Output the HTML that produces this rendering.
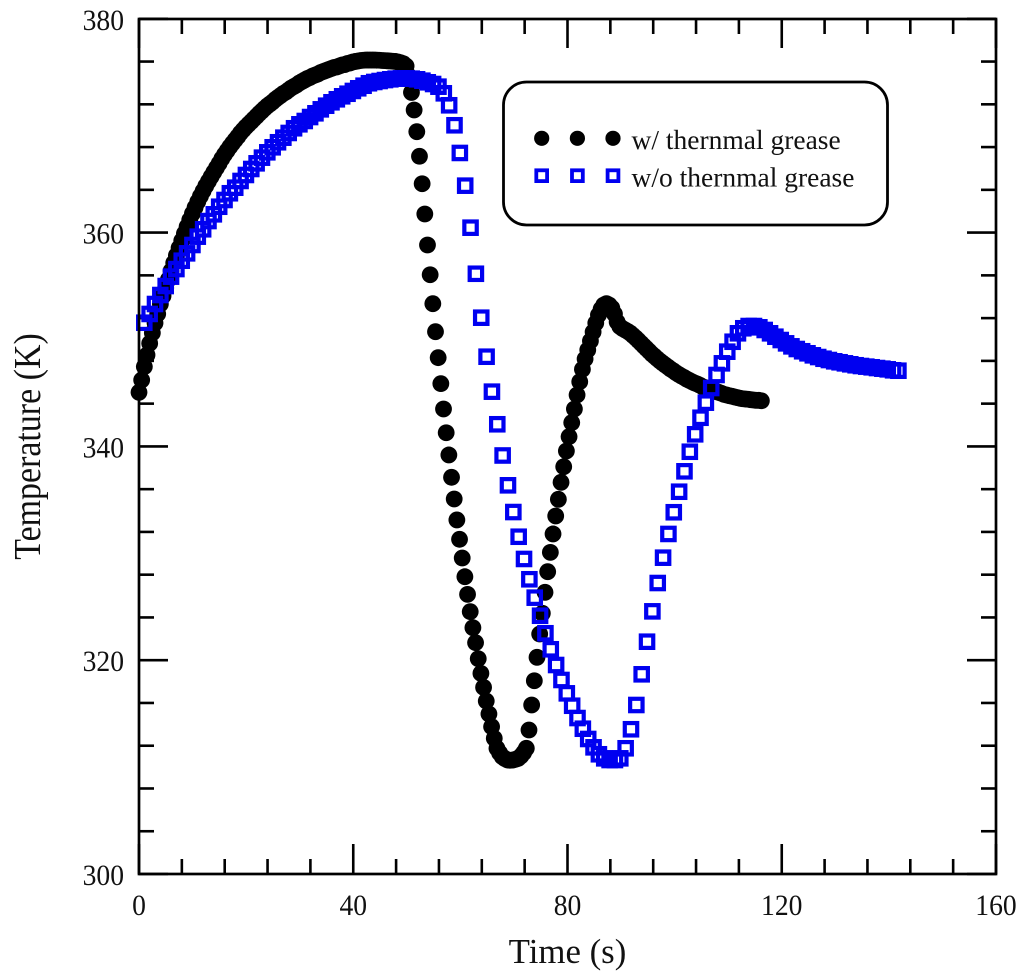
<!DOCTYPE html>
<html lang="en">
<head>
<meta charset="utf-8">
<title>Temperature vs Time</title>
<style>
html,body{margin:0;padding:0;background:#fff;width:1024px;height:977px;overflow:hidden}
svg{display:block}
text{font-family:"Liberation Serif",serif;fill:#111}
</style>
</head>
<body>
<svg id="chart" xmlns="http://www.w3.org/2000/svg" width="1024" height="977" viewBox="0 0 1024 977">
  <rect x="0" y="0" width="1024" height="977" fill="#fff"/>
  <g id="ticks"></g>
  <g id="tick-labels"></g>
  <text x="567.5" y="963" font-size="34.8" text-anchor="middle">Time (s)</text>
  <text transform="translate(40,446.5) rotate(-90) scale(0.975,1.08)" font-size="34.8" text-anchor="middle">Temperature (K)</text>
  <g id="series-black"></g>
  <g id="series-blue"></g>
  <rect x="139" y="19" width="857" height="855" fill="none" stroke="#000" stroke-width="2.7"/>
  <g>
    <rect x="503.5" y="82" width="384" height="143" rx="23" ry="23" fill="#fff" stroke="#000" stroke-width="2.8"/>
    <circle cx="541.7" cy="138.3" r="7.6" fill="#000"/>
    <circle cx="577.4" cy="138.3" r="7.6" fill="#000"/>
    <circle cx="613" cy="138.3" r="7.6" fill="#000"/>
    <rect x="536.3" y="170.3" width="10.8" height="10.8" fill="none" stroke="#0000f0" stroke-width="3.8"/>
    <rect x="572" y="170.3" width="10.8" height="10.8" fill="none" stroke="#0000f0" stroke-width="3.8"/>
    <rect x="607.6" y="170.3" width="10.8" height="10.8" fill="none" stroke="#0000f0" stroke-width="3.8"/>
    <text x="631.5" y="149" font-size="27.5">w/ thernmal grease</text>
    <text x="631.5" y="186.5" font-size="27.5">w/o thernmal grease</text>
  </g>
</svg>
<script>
const xMajorTicks = [0, 40, 80, 120, 160];
const xMinorTicks = [8, 16, 24, 32, 48, 56, 64, 72, 88, 96, 104, 112, 128, 136, 144, 152];
const yMajorTicks = [300, 320, 340, 360, 380];
const yMinorTicks = [304, 308, 312, 316, 324, 328, 332, 336, 344, 348, 352, 356, 364, 368, 372, 376];
const withGreaseStartTime = 0;
const withGreaseTimeStep = 0.4987;
const withoutGreaseStartTime = 0.99;
const withoutGreaseTimeStep = 0.9985;
const withGreaseTemps = [
345.06,346.21,347.46,348.55,349.64,350.61,351.54,352.39,353.32,354.07,
354.82,355.61,356.41,357.16,357.86,358.56,359.24,359.91,360.55,361.18,
361.78,362.35,362.89,363.41,363.89,364.36,364.80,365.23,365.65,366.06,
366.47,366.91,367.30,367.66,368.02,368.35,368.67,368.98,369.32,369.60,
369.88,370.13,370.37,370.63,370.88,371.14,371.37,371.61,371.84,372.03,
372.22,372.45,372.64,372.82,373.01,373.15,373.34,373.53,373.67,373.81,
373.99,374.13,374.27,374.41,374.51,374.65,374.74,374.84,374.98,375.07,
375.16,375.26,375.35,375.44,375.49,375.58,375.68,375.72,375.82,375.87,
375.96,376.01,376.05,376.10,376.12,376.14,376.14,376.14,376.14,376.13,
376.12,376.10,376.09,376.07,376.05,376.03,376.01,375.96,375.89,375.79,
375.58,374.65,373.11,371.47,369.44,367.14,364.57,361.74,358.84,356.06,
353.35,350.73,348.30,345.87,343.50,341.28,339.20,337.11,335.08,333.12,
331.31,329.56,327.81,326.16,324.54,323.04,321.64,320.14,318.77,317.46,
316.18,314.97,313.78,312.69,311.76,311.32,310.97,310.79,310.66,310.64,
310.66,310.73,310.82,311.04,311.35,311.76,313.47,315.81,318.08,320.27,
322.45,324.39,326.35,328.28,330.09,331.81,333.49,335.05,336.64,338.10,
339.57,340.91,342.22,343.50,344.81,346.05,347.21,348.18,349.02,349.86,
350.70,351.54,352.29,352.85,353.23,353.35,353.23,352.95,352.39,351.64,
351.22,351.03,350.89,350.75,350.58,350.36,350.14,349.89,349.64,349.39,
349.14,348.90,348.64,348.43,348.20,347.99,347.80,347.61,347.43,347.24,
347.08,346.89,346.74,346.59,346.46,346.30,346.18,346.05,345.93,345.84,
345.72,345.58,345.49,345.40,345.30,345.21,345.12,345.06,344.97,344.87,
344.81,344.74,344.69,344.62,344.56,344.50,344.46,344.43,344.41,344.37,
344.34,344.31,344.31,344.27
];
const withoutGreaseTemps = [
351.57,352.39,353.32,354.16,355.00,355.88,356.59,357.37,358.06,358.84,
359.62,360.31,361.08,361.71,362.42,363.05,363.68,364.20,364.83,365.39,
365.95,366.48,367.01,367.51,367.98,368.45,368.88,369.32,369.76,370.13,
370.44,370.81,371.16,371.53,371.87,372.19,372.47,372.75,372.99,373.25,
373.50,373.74,373.97,374.09,374.18,374.27,374.34,374.40,374.43,374.43,
374.40,374.34,374.21,374.06,373.90,373.65,373.03,371.91,370.04,367.45,
364.39,360.46,356.15,352.04,348.39,345.12,342.07,339.15,336.36,333.86,
331.55,329.47,327.57,325.85,324.16,322.52,321.02,319.55,318.15,316.90,
315.74,314.59,313.59,312.63,311.85,311.20,310.82,310.66,310.66,310.82,
311.76,313.54,315.81,318.68,321.73,324.57,327.22,329.59,331.81,333.84,
335.76,337.67,339.50,341.13,342.68,344.09,345.46,346.68,347.77,348.86,
349.79,350.58,351.05,351.26,351.26,351.14,350.89,350.58,350.26,349.95,
349.64,349.36,349.11,348.90,348.71,348.52,348.36,348.20,348.08,347.96,
347.87,347.77,347.68,347.59,347.52,347.46,347.40,347.33,347.27,347.21,
347.12,347.08
];

const SVG_NS = 'http://www.w3.org/2000/svg';
const xScale = function (t) { return 139 + t * (996 - 139) / 160; };
const yScale = function (k) { return 874 - (k - 300) * (874 - 18.8) / 80; };

const tickLayer = document.getElementById('ticks');
const labelLayer = document.getElementById('tick-labels');
const blackLayer = document.getElementById('series-black');
const blueLayer = document.getElementById('series-blue');

function drawTick(x1, y1, x2, y2, name) {
  const el = document.createElementNS(SVG_NS, 'line');
  el.setAttribute('x1', x1);
  el.setAttribute('y1', y1);
  el.setAttribute('x2', x2);
  el.setAttribute('y2', y2);
  el.setAttribute('stroke', '#000');
  el.setAttribute('stroke-width', '2.6');
  
  
  tickLayer.appendChild(el);
}

function drawLabel(x, y, anchor, value, name) {
  const el = document.createElementNS(SVG_NS, 'text');
  el.setAttribute('transform', 'translate(' + x + ',' + y + ') scale(1,1.07)');
  el.setAttribute('font-size', '27.6');
  el.setAttribute('text-anchor', anchor);
  
  
  el.textContent = String(value);
  labelLayer.appendChild(el);
}

xMinorTicks.forEach(function (t) {
  drawTick(xScale(t), 874, xScale(t), 859, 'x-minor-tick');
  drawTick(xScale(t), 19, xScale(t), 34, 'x-minor-tick-top');
});
xMajorTicks.forEach(function (t) {
  drawTick(xScale(t), 874, xScale(t), 844, 'x-major-tick');
  drawTick(xScale(t), 19, xScale(t), 48, 'x-major-tick-top');
  drawLabel(xScale(t), 915, 'middle', t, 'x-tick-label');
});
yMinorTicks.forEach(function (k) {
  drawTick(139, yScale(k), 154, yScale(k), 'y-minor-tick');
  drawTick(996, yScale(k), 981, yScale(k), 'y-minor-tick-right');
});
yMajorTicks.forEach(function (k) {
  drawTick(139, yScale(k), 168, yScale(k), 'y-major-tick');
  drawTick(996, yScale(k), 967, yScale(k), 'y-major-tick-right');
  drawLabel(124, yScale(k) + 11, 'end', k, 'y-tick-label');
});

withGreaseTemps.forEach(function (k, i) {
  const el = document.createElementNS(SVG_NS, 'circle');
  el.setAttribute('cx', xScale(withGreaseStartTime + i * withGreaseTimeStep));
  el.setAttribute('cy', yScale(k));
  el.setAttribute('r', '8.4');
  el.setAttribute('fill', '#000');
  
  
  blackLayer.appendChild(el);
});

withoutGreaseTemps.forEach(function (k, i) {
  const el = document.createElementNS(SVG_NS, 'rect');
  const cx = xScale(withoutGreaseStartTime + i * withoutGreaseTimeStep);
  const cy = yScale(k);
  el.setAttribute('x', cx - 6.2);
  el.setAttribute('y', cy - 6.2);
  el.setAttribute('width', '12.4');
  el.setAttribute('height', '12.4');
  el.setAttribute('fill', 'none');
  el.setAttribute('stroke', '#0000f0');
  el.setAttribute('stroke-width', '4.2');
  
  
  blueLayer.appendChild(el);
});
</script>
</body>
</html>
